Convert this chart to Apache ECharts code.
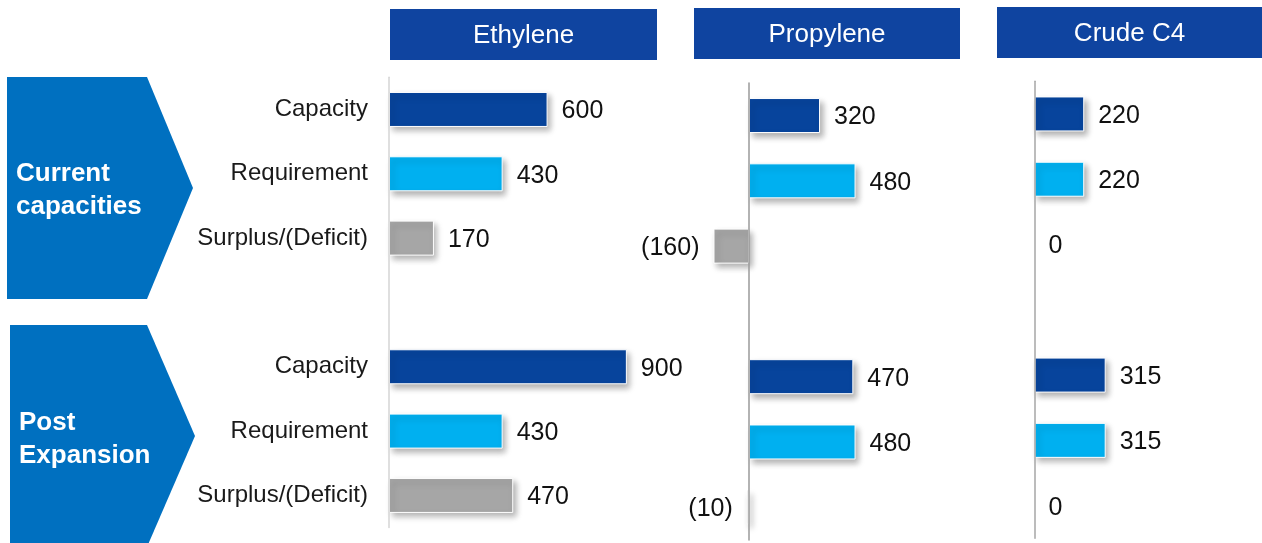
<!DOCTYPE html>
<html>
<head>
<meta charset="utf-8">
<title>Ethylene / Propylene / Crude C4 balance</title>
<script src="https://cdn.jsdelivr.net/npm/echarts@6/dist/echarts.min.js"></script>
<style>
    html, body { margin: 0; padding: 0; background: #fff; }
    #chart { width: 1262px; height: 543px; }
</style>
</head>
<body>
<div id="chart"></div>
<script>
// rows of each panel, blank row separates the two groups
var categories = ['Capacity', 'Requirement', 'Surplus/(Deficit)', '', 'Capacity', 'Requirement', 'Surplus/(Deficit)'];
var groupNames = ['Current\ncapacities', 'Post\nExpansion'];
var panelNames = ['Ethylene', 'Propylene', 'Crude C4'];

var ethylene = [600, 430, 170, null, 900, 430, 470];
var propylene = [320, 480, -160, null, 470, 480, -10];
var crudeC4 = [220, 220, 0, null, 315, 315, 0];

var FONT = '"Liberation Sans", Arial, sans-serif';
var rowColors = ['#07449C', '#00B0F0', '#A6A6A6'];

function buildData(values) {
    return values.map(function (v, i) {
        if (v === null) return '-';
        var item = {
            value: v,
            itemStyle: { color: rowColors[i % 4] },
            label: { position: v < 0 ? 'left' : 'right' }
        };
        // zero bars: no border so the axis line stays unbroken
        if (v === 0) {
            item.itemStyle.borderWidth = 0;
            item.itemStyle.shadowColor = 'rgba(0,0,0,0)';
        }
        return item;
    });
}

function fmt(p) {
    var v = p.value;
    return v < 0 ? '(' + (-v) + ')' : String(v);
}

var grids = [
    { left: 389, top: 77.3, width: 264.3, height: 450.3 },
    { left: 704.6, top: 82.9, width: 222, height: 457 },
    { left: 1034.5, top: 81.3, width: 226, height: 457 }
];
var xRanges = [[0, 1000], [-200, 800], [0, 1000]];
var axisColors = ['#D4D4D4', '#9A9A9A', '#A6A6A6'];
var seriesValues = [ethylene, propylene, crudeC4];

var chart = echarts.init(document.getElementById('chart'));

var graphic = [
    // chevrons
    { type: 'polygon', shape: { points: [[7, 77], [147, 77], [193, 188], [147, 299], [7, 299]] }, style: { fill: '#0070C0' } },
    { type: 'polygon', shape: { points: [[10, 325], [147, 325], [195, 436], [147, 547], [10, 547]] }, style: { fill: '#0070C0' } },
    { type: 'text', left: 16, top: 157, style: { text: groupNames[0], fill: '#fff', font: 'bold 26px ' + FONT, lineHeight: 33 } },
    { type: 'text', left: 19, top: 406, style: { text: groupNames[1], fill: '#fff', font: 'bold 26px ' + FONT, lineHeight: 33 } },
    // panel headers
    { type: 'rect', shape: { x: 390, y: 9, width: 267, height: 51 }, style: { fill: '#0F44A0' } },
    { type: 'rect', shape: { x: 694, y: 8, width: 266, height: 51 }, style: { fill: '#0F44A0' } },
    { type: 'rect', shape: { x: 997, y: 7, width: 265, height: 51 }, style: { fill: '#0F44A0' } },
    { type: 'text', x: 523.5, y: 36, style: { text: panelNames[0], fill: '#fff', font: '26px ' + FONT, textAlign: 'center', textVerticalAlign: 'middle' } },
    { type: 'text', x: 827, y: 35, style: { text: panelNames[1], fill: '#fff', font: '26px ' + FONT, textAlign: 'center', textVerticalAlign: 'middle' } },
    { type: 'text', x: 1129.5, y: 34, style: { text: panelNames[2], fill: '#fff', font: '26px ' + FONT, textAlign: 'center', textVerticalAlign: 'middle' } }
];

chart.setOption({
    animation: false,
    textStyle: { fontFamily: FONT },
    graphic: graphic,
    grid: grids,
    xAxis: grids.map(function (g, i) {
        return {
            type: 'value',
            gridIndex: i,
            min: xRanges[i][0],
            max: xRanges[i][1],
            show: false,
            splitLine: { show: false }
        };
    }),
    yAxis: grids.map(function (g, i) {
        return {
            type: 'category',
            gridIndex: i,
            data: categories,
            inverse: true,
            z: 3,
            axisTick: { show: false },
            axisLine: { show: true, onZero: true, lineStyle: { color: axisColors[i], width: 1.5 } },
            axisLabel: {
                show: i === 0,
                margin: 21,
                fontSize: 24,
                color: '#1A1A1A',
                fontFamily: FONT
            }
        };
    }),
    series: seriesValues.map(function (vals, i) {
        return {
            type: 'bar',
            xAxisIndex: i,
            yAxisIndex: i,
            barWidth: 35,
            data: buildData(vals),
            itemStyle: {
                borderColor: '#fff',
                borderWidth: 1,
                shadowColor: 'rgba(0,0,0,0.3)',
                shadowBlur: 6,
                shadowOffsetX: 3,
                shadowOffsetY: 4
            },
            label: {
                show: true,
                distance: 14,
                offset: [0, 2],
                fontSize: 25,
                color: '#111',
                fontFamily: FONT,
                formatter: fmt
            }
        };
    })
});
</script>
</body>
</html>
